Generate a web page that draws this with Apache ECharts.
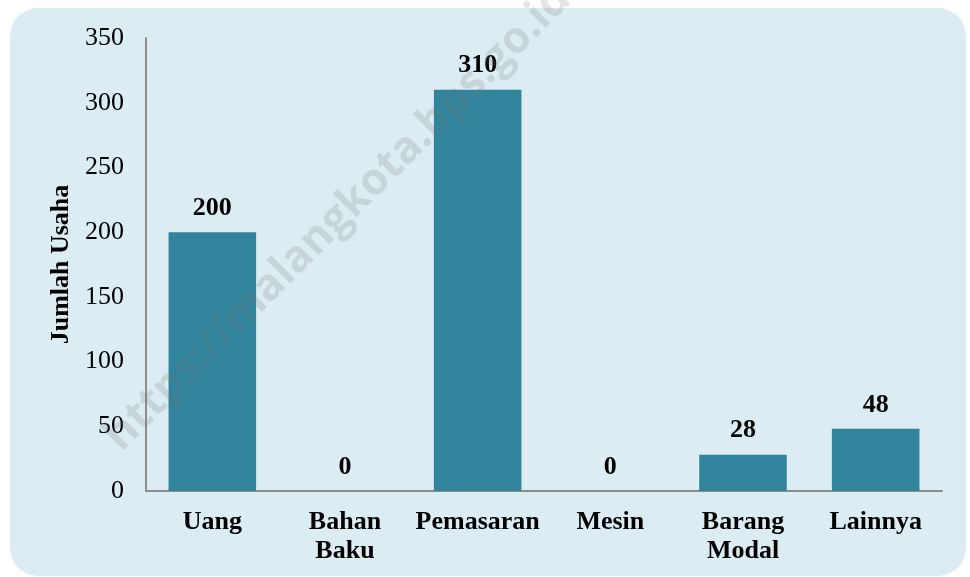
<!DOCTYPE html>
<html lang="id">
<head>
    <meta charset="utf-8"/>
    <title>Jumlah Usaha</title>
    <script src="https://cdn.jsdelivr.net/npm/echarts@6/dist/echarts.min.js"></script>
    <style>
        html, body { margin: 0; padding: 0; background: #ffffff; }
        #chart { width: 970px; height: 577px; }
    </style>
</head>
<body>
<div id="chart"></div>
<script>
    // data
    const categories = ['Uang', 'Bahan\nBaku', 'Pemasaran', 'Mesin', 'Barang\nModal', 'Lainnya'];
    const values = [200, 0, 310, 0, 28, 48];
    const yTicks = [0, 50, 100, 150, 200, 250, 300, 350];

    const serif = '"Liberation Serif", "Times New Roman", serif';
    const chart = echarts.init(document.getElementById('chart'), null, {renderer: 'canvas'});

    const option = {
        backgroundColor: '#ffffff',
        animation: false,
        graphic: [
            {
                type: 'rect',
                z: -10,
                shape: {x: 10, y: 8, width: 956, height: 568, r: 28},
                style: {fill: '#dbedf3'}
            },
            {
                // watermark, drawn over the bars
                type: 'text',
                z: 100,
                x: 338, y: 218,
                rotation: Math.PI / 4,
                style: {
                    text: 'https://malangkota.bps.go.id',
                    font: 'bold 44px "Open Sans", sans-serif',
                    fill: 'rgba(120,120,120,0.2)',
                    align: 'center',
                    verticalAlign: 'middle'
                }
            }
        ],
        grid: {left: 146, right: 28, top: 38, bottom: 86, containLabel: false},
        xAxis: {
            type: 'category',
            data: categories,
            axisLine: {lineStyle: {color: '#8c8c8c', width: 2}},
            axisTick: {show: false},
            axisLabel: {
                color: '#000',
                fontFamily: serif,
                fontWeight: 'bold',
                fontSize: 26,
                lineHeight: 29,
                margin: 17,
                interval: 0
            }
        },
        yAxis: {
            type: 'value',
            min: yTicks[0],
            max: yTicks[yTicks.length - 1],
            interval: 50,
            name: 'Jumlah Usaha',
            nameLocation: 'middle',
            nameGap: 72,
            nameRotate: 90,
            nameTextStyle: {
                color: '#000',
                fontFamily: serif,
                fontWeight: 'bold',
                fontSize: 26
            },
            axisLine: {show: true, lineStyle: {color: '#8c8c8c', width: 2}},
            axisTick: {show: false},
            splitLine: {show: false},
            axisLabel: {
                color: '#000',
                fontFamily: serif,
                fontSize: 26,
                margin: 22
            }
        },
        series: [{
            type: 'bar',
            data: values,
            barWidth: '66%',
            itemStyle: {color: '#31849b'},
            label: {
                show: true,
                position: 'top',
                distance: 11,
                color: '#000',
                fontFamily: serif,
                fontWeight: 'bold',
                fontSize: 26
            }
        }]
    };
    chart.setOption(option);
</script>
</body>
</html>
